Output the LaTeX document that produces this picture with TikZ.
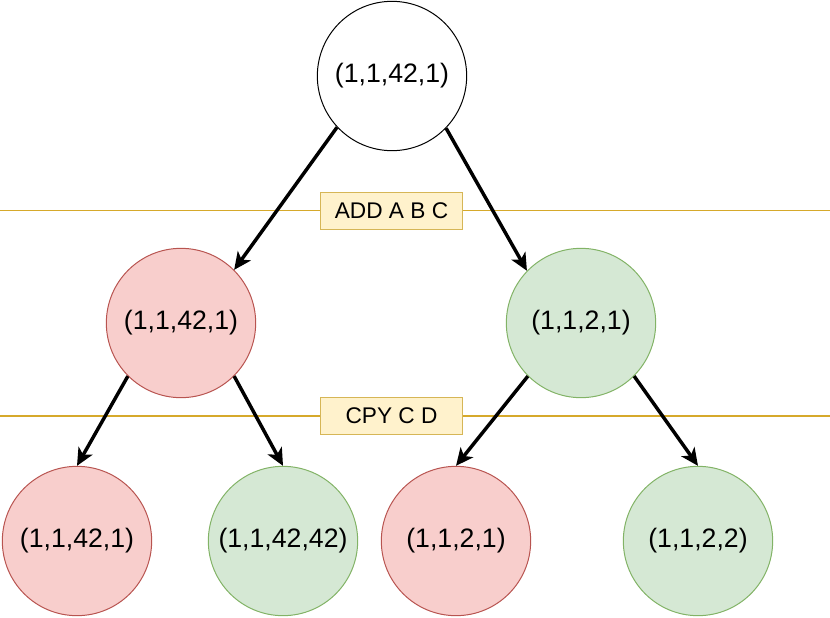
\documentclass[tikz,border=0pt]{standalone}
\usepackage{fontspec}
\setmainfont{Liberation Sans}
\usetikzlibrary{arrows.meta}
\definecolor{redfill}{HTML}{F8CECC}
\definecolor{redline}{HTML}{B85450}
\definecolor{greenfill}{HTML}{D5E8D4}
\definecolor{greenline}{HTML}{82B366}
\definecolor{yelfill}{HTML}{FFF2CC}
\definecolor{yelline}{HTML}{D6B656}
\definecolor{rule}{HTML}{D6A92B}
\begin{document}
\begin{tikzpicture}[x=0.75pt,y=-0.75pt,
  state/.style={circle, draw, line width=0.75pt, minimum size=112pt, inner sep=0pt,
    font=\fontsize{20}{24}\selectfont},
  bad/.style={state, draw=redline, fill=redfill},
  good/.style={state, draw=greenline, fill=greenfill},
  instr/.style={draw=yelline, fill=yelfill, line width=0.75pt, minimum width=107pt,
    minimum height=28pt, inner sep=0pt, font=\fontsize{17}{20}\selectfont},
  step line/.style={draw=rule, line width=0.9pt},
  arr/.style={line width=2.6pt, -{Stealth[length=13pt, width=12pt, inset=3.5pt]}}]
\useasboundingbox (0,0) rectangle (830,617);

% instruction rules
\coordinate (r1w) at (0,210.6);
\coordinate (r1e) at (830,210.6);
\coordinate (r2w) at (0,416);
\coordinate (r2e) at (830,416);
\node[instr] (add) at (391.5,211) {ADD A B C};
\node[instr] (cpy) at (391.5,416) {CPY C D};
\draw[step line] (r1w) -- (r1w -| add.west) (r1e -| add.east) -- (r1e);
\draw[step line] (r2w) -- (cpy.west) (cpy.east) -- (r2e);

% states
\node[state] (root) at (392,76) {(1,1,42,1)};
\node[bad]  (ml) at (181,323) {(1,1,42,1)};
\node[good] (mr) at (581,323) {(1,1,2,1)};
\node[bad]  (b1) at (77,541) {(1,1,42,1)};
\node[good] (b2) at (283,541) {(1,1,42,42)};
\node[bad]  (b3) at (456,541) {(1,1,2,1)};
\node[good] (b4) at (698,541) {(1,1,2,2)};

% transitions
\draw[arr] (root.223) -- (ml.45);
\draw[arr] (root.316) -- (mr.136);
\draw[arr] (ml.225) -- (b1.90);
\draw[arr] (ml.315) -- (b2.90);
\draw[arr] (mr.225) -- (b3.90);
\draw[arr] (mr.315) -- (b4.90);
\end{tikzpicture}
\end{document}
